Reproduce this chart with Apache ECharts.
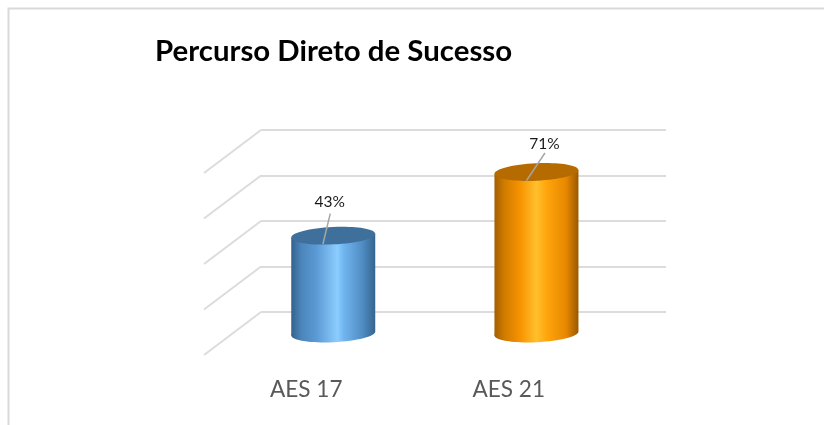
<!DOCTYPE html>
<html><head><meta charset="utf-8">
<style>html,body{margin:0;padding:0;background:#fff}#c{width:824px;height:425px}</style>
<script src="https://cdn.jsdelivr.net/npm/echarts@6/dist/echarts.min.js"></script>
</head><body><div id="c"></div>
<script>
const categories = ['AES 17', 'AES 21'];
const values = [43, 71];
const tickValues = [0, 20, 40, 60, 80];
const titleText = 'Percurso Direto de Sucesso';

const barStyles = [
  {stops:[[0,'#33628c'],[0.12,'#4b86bb'],[0.3,'#5b9ad4'],[0.55,'#8ccdff'],[0.62,'#72b6f0'],[0.85,'#4f8cc2'],[1,'#35648e']], top:'#3f709c', lead:[[-3,-22],[-10.3,8.3]], text:[-3.5,-33.5]},
  {stops:[[0,'#a35f00'],[0.12,'#d07c00'],[0.3,'#f79200'],[0.5,'#ffc02c'],[0.62,'#ffa50c'],[0.85,'#e88800'],[1,'#9a5800']], top:'#b56b00', lead:[[8.5,-19],[-10,8.7]], text:[8,-28]}
];
const depthY = 21.5, depthX = -29, halfW = 42, ry = 8.7, tilt = 0.047;

function renderBar(params, api) {
  const i = api.value(0), v = api.value(1);
  const base = api.coord([i, 0]), top = api.coord([i, v]);
  const cx = base[0] + depthX + i * 0.7, by = base[1] + depthY, ty = top[1] + depthY;
  const s = barStyles[i];
  const rot = tilt;
  const dy = halfW * Math.sin(rot);
  const grad = {type:'linear',x:0,y:0,x2:1,y2:0,colorStops:s.stops.map(p=>({offset:p[0],color:p[1]}))};
  const ell = (y, fill) => ({type:'ellipse',shape:{cx:0,cy:0,rx:halfW,ry:ry},x:cx,y:y,rotation:rot,style:{fill:fill}});
  return {type:'group',children:[
    ell(by, grad),
    {type:'polygon',shape:{points:[[cx-halfW,ty+dy],[cx+halfW,ty-dy],[cx+halfW,by-dy],[cx-halfW,by+dy]]},style:{fill:grad}},
    ell(ty, s.top),
    {type:'line',shape:{x1:cx+s.lead[0][0],y1:ty+s.lead[0][1],x2:cx+s.lead[1][0],y2:ty+s.lead[1][1]},style:{stroke:'#a6a6a6',lineWidth:1.5}},
    {type:'text',x:cx+s.text[0],y:ty+s.text[1],style:{text:v+'%',fill:'#1a1a1a',font:'15.5px Lato, sans-serif',textAlign:'center',textVerticalAlign:'middle'}}
  ]};
}
function renderDiag(params, api) {
  const p = api.coord([0, api.value(0)]);
  const x0 = params.coordSys.x;
  return {type:'line',shape:{x1:x0,y1:p[1],x2:x0-57,y2:p[1]+43},style:{stroke:'#dcdcdc',lineWidth:2}};
}

const chart = echarts.init(document.getElementById('c'), null, {renderer:'canvas'});
chart.setOption({
  animation:false,
  backgroundColor:'#ffffff',
  title:{text:titleText,left:155,top:37,textStyle:{fontFamily:'Lato, sans-serif',fontWeight:'bold',fontSize:29.4,color:'#000'},padding:0},
  grid:{left:261,right:158,top:130,bottom:113},
  xAxis:{type:'category',data:categories,axisLine:{show:false},axisTick:{show:false},
    axisLabel:{margin:66,fontFamily:'Lato, sans-serif',fontSize:22.6,color:'#595959',padding:[0,112,0,0]}},
  yAxis:{type:'value',min:0,max:80,interval:20,axisLabel:{show:false},axisLine:{show:false},axisTick:{show:false},
    splitLine:{lineStyle:{color:'#dcdcdc',width:2}}},
  graphic:[{type:'polyline',silent:true,shape:{points:[[8.5,425],[8.5,8.5],[824,8.5]]},style:{fill:null,stroke:'#d9d9d9',lineWidth:2}}],
  series:[
    {type:'custom',silent:true,clip:false,coordinateSystem:'cartesian2d',encode:{y:0},data:tickValues.map(v=>[v]),renderItem:renderDiag,z:1},
    {type:'custom',silent:true,clip:false,coordinateSystem:'cartesian2d',encode:{x:0,y:1},data:values.map((v,i)=>[i,v]),renderItem:renderBar,z:3}
  ]
});
</script></body></html>
